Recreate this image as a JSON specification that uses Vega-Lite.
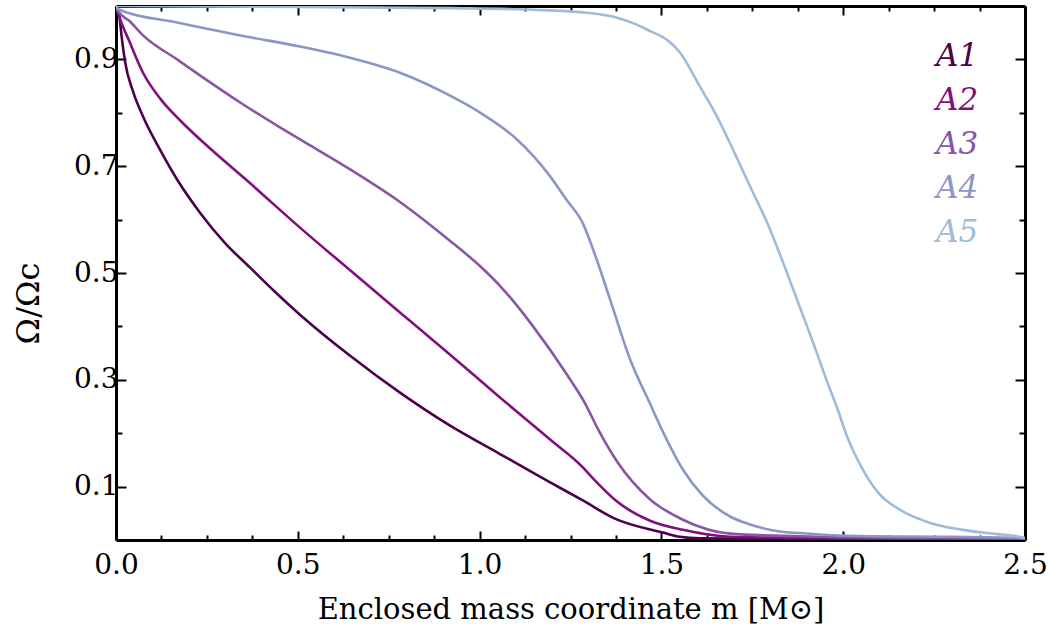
{
  "$schema": "https://vega.github.io/schema/vega-lite/v6.json",
  "width": 909,
  "height": 534,
  "autosize": {"type": "none"},
  "padding": {"left": 116, "top": 6, "right": 23, "bottom": 88},
  "background": "white",
  "config": {
    "view": {"stroke": null},
    "font": "DejaVu Serif",
    "axis": {
      "domainColor": "black",
      "domainWidth": 3,
      "tickColor": "black",
      "tickWidth": 2,
      "grid": false,
      "labelFont": "DejaVu Serif",
      "labelFontSize": 28,
      "labelColor": "black",
      "labelFlush": false,
      "labelOverlap": false,
      "labelBound": false,
      "titleFont": "DejaVu Serif",
      "titleFontSize": 29,
      "titleFontWeight": "normal",
      "titleColor": "black"
    }
  },
  "data": {"values": [
    {"model":"A1","m":0,"omega":1.0},{"model":"A1","m":0.0083,"omega":0.985},{"model":"A1","m":0.0165,"omega":0.937},{"model":"A1","m":0.0248,"omega":0.896},{"model":"A1","m":0.0468,"omega":0.840},{"model":"A1","m":0.0743,"omega":0.793},{"model":"A1","m":0.121,"omega":0.731},{"model":"A1","m":0.168,"omega":0.675},{"model":"A1","m":0.231,"omega":0.613},{"model":"A1","m":0.300,"omega":0.556},{"model":"A1","m":0.369,"omega":0.510},{"model":"A1","m":0.437,"omega":0.465},{"model":"A1","m":0.506,"omega":0.422},{"model":"A1","m":0.644,"omega":0.345},{"model":"A1","m":0.781,"omega":0.276},{"model":"A1","m":0.919,"omega":0.214},{"model":"A1","m":1.056,"omega":0.161},{"model":"A1","m":1.103,"omega":0.143},{"model":"A1","m":1.194,"omega":0.108},{"model":"A1","m":1.284,"omega":0.074},{"model":"A1","m":1.372,"omega":0.040},{"model":"A1","m":1.504,"omega":0.014},{"model":"A1","m":1.551,"omega":0.006},{"model":"A1","m":1.606,"omega":0.003},{"model":"A1","m":2.0,"omega":0.001},{"model":"A1","m":2.5,"omega":0.001},
    {"model":"A2","m":0,"omega":1.0},{"model":"A2","m":0.0055,"omega":0.987},{"model":"A2","m":0.0385,"omega":0.931},{"model":"A2","m":0.0743,"omega":0.875},{"model":"A2","m":0.121,"omega":0.827},{"model":"A2","m":0.176,"omega":0.786},{"model":"A2","m":0.259,"omega":0.733},{"model":"A2","m":0.369,"omega":0.668},{"model":"A2","m":0.506,"omega":0.585},{"model":"A2","m":0.644,"omega":0.505},{"model":"A2","m":0.781,"omega":0.426},{"model":"A2","m":0.919,"omega":0.347},{"model":"A2","m":1.056,"omega":0.267},{"model":"A2","m":1.194,"omega":0.188},{"model":"A2","m":1.284,"omega":0.136},{"model":"A2","m":1.315,"omega":0.113},{"model":"A2","m":1.378,"omega":0.072},{"model":"A2","m":1.469,"omega":0.036},{"model":"A2","m":1.559,"omega":0.019},{"model":"A2","m":1.689,"omega":0.006},{"model":"A2","m":1.881,"omega":0.004},{"model":"A2","m":2.156,"omega":0.002},{"model":"A2","m":2.5,"omega":0.002},
    {"model":"A3","m":0,"omega":1.0},{"model":"A3","m":0.0055,"omega":0.991},{"model":"A3","m":0.0385,"omega":0.971},{"model":"A3","m":0.0743,"omega":0.945},{"model":"A3","m":0.168,"omega":0.900},{"model":"A3","m":0.259,"omega":0.857},{"model":"A3","m":0.349,"omega":0.816},{"model":"A3","m":0.443,"omega":0.776},{"model":"A3","m":0.534,"omega":0.739},{"model":"A3","m":0.644,"omega":0.694},{"model":"A3","m":0.781,"omega":0.633},{"model":"A3","m":0.919,"omega":0.560},{"model":"A3","m":1.001,"omega":0.513},{"model":"A3","m":1.064,"omega":0.470},{"model":"A3","m":1.147,"omega":0.400},{"model":"A3","m":1.240,"omega":0.310},{"model":"A3","m":1.290,"omega":0.256},{"model":"A3","m":1.326,"omega":0.207},{"model":"A3","m":1.378,"omega":0.147},{"model":"A3","m":1.469,"omega":0.076},{"model":"A3","m":1.559,"omega":0.038},{"model":"A3","m":1.689,"omega":0.012},{"model":"A3","m":1.881,"omega":0.007},{"model":"A3","m":2.156,"omega":0.004},{"model":"A3","m":2.5,"omega":0.003},
    {"model":"A4","m":0,"omega":1.0},{"model":"A4","m":0.0055,"omega":0.994},{"model":"A4","m":0.168,"omega":0.969},{"model":"A4","m":0.349,"omega":0.944},{"model":"A4","m":0.506,"omega":0.924},{"model":"A4","m":0.644,"omega":0.903},{"model":"A4","m":0.781,"omega":0.875},{"model":"A4","m":0.919,"omega":0.832},{"model":"A4","m":1.009,"omega":0.797},{"model":"A4","m":1.103,"omega":0.750},{"model":"A4","m":1.194,"omega":0.681},{"model":"A4","m":1.238,"omega":0.638},{"model":"A4","m":1.284,"omega":0.593},{"model":"A4","m":1.320,"omega":0.529},{"model":"A4","m":1.359,"omega":0.450},{"model":"A4","m":1.414,"omega":0.338},{"model":"A4","m":1.469,"omega":0.255},{"model":"A4","m":1.504,"omega":0.203},{"model":"A4","m":1.559,"omega":0.132},{"model":"A4","m":1.614,"omega":0.083},{"model":"A4","m":1.689,"omega":0.044},{"model":"A4","m":1.744,"omega":0.029},{"model":"A4","m":1.826,"omega":0.016},{"model":"A4","m":1.881,"omega":0.013},{"model":"A4","m":2.010,"omega":0.008},{"model":"A4","m":2.294,"omega":0.006},{"model":"A4","m":2.5,"omega":0.004},
    {"model":"A5","m":0,"omega":1.0},{"model":"A5","m":0.506,"omega":0.998},{"model":"A5","m":0.919,"omega":0.996},{"model":"A5","m":1.147,"omega":0.993},{"model":"A5","m":1.284,"omega":0.988},{"model":"A5","m":1.378,"omega":0.978},{"model":"A5","m":1.422,"omega":0.968},{"model":"A5","m":1.469,"omega":0.953},{"model":"A5","m":1.515,"omega":0.937},{"model":"A5","m":1.551,"omega":0.913},{"model":"A5","m":1.606,"omega":0.849},{"model":"A5","m":1.653,"omega":0.793},{"model":"A5","m":1.697,"omega":0.731},{"model":"A5","m":1.744,"omega":0.662},{"model":"A5","m":1.791,"omega":0.594},{"model":"A5","m":1.835,"omega":0.519},{"model":"A5","m":1.873,"omega":0.450},{"model":"A5","m":1.917,"omega":0.370},{"model":"A5","m":1.955,"omega":0.298},{"model":"A5","m":1.983,"omega":0.248},{"model":"A5","m":2.010,"omega":0.195},{"model":"A5","m":2.054,"omega":0.132},{"model":"A5","m":2.101,"omega":0.085},{"model":"A5","m":2.148,"omega":0.060},{"model":"A5","m":2.239,"omega":0.032},{"model":"A5","m":2.329,"omega":0.019},{"model":"A5","m":2.423,"omega":0.011},{"model":"A5","m":2.478,"omega":0.007},{"model":"A5","m":2.5,"omega":0.003}
  ]},
  "layer": [
    {
      "mark": {"type": "line", "strokeWidth": 2.6, "interpolate": "monotone", "clip": true},
      "encoding": {
        "x": {
          "field": "m", "type": "quantitative",
          "scale": {"domain": [0, 2.5], "nice": false, "zero": false},
          "axis": {
            "orient": "bottom",
            "title": "Enclosed mass coordinate m [M⊙]",
            "titlePadding": 12,
            "values": [0,0.125,0.25,0.375,0.5,0.625,0.75,0.875,1,1.125,1.25,1.375,1.5,1.625,1.75,1.875,2,2.125,2.25,2.375,2.5],
            "labelExpr": "abs(datum.value*2 - round(datum.value*2)) < 0.001 ? format(datum.value, '.1f') : ''",
            "tickSize": {"condition": {"test": "abs(datum.value*2 - round(datum.value*2)) < 0.001", "value": -9}, "value": -5},
            "labelPadding": 20
          }
        },
        "y": {
          "field": "omega", "type": "quantitative",
          "scale": {"domain": [0, 1], "nice": false, "zero": false},
          "axis": {
            "orient": "left",
            "title": "Ω/Ωc",
            "titleFontSize": 32,
            "titlePadding": 28,
            "titleY": 297,
            "values": [0.1,0.2,0.3,0.4,0.5,0.6,0.7,0.8,0.9],
            "labelExpr": "round(datum.value*10) % 2 == 1 ? format(datum.value, '.1f') : ''",
            "tickSize": {"condition": {"test": "round(datum.value*10) % 2 == 1", "value": -10}, "value": -6},
            "labelPadding": 8
          }
        },
        "color": {
          "field": "model", "type": "nominal",
          "scale": {"domain": ["A1","A2","A3","A4","A5"], "range": ["#4d004b","#810f7c","#8856a7","#8c96c6","#9ebcda"]},
          "legend": {
            "orient": "none",
            "legendX": 789,
            "legendY": 35,
            "title": null,
            "symbolSize": 0,
            "symbolOpacity": 0,
            "symbolStrokeWidth": 0,
            "labelOffset": 0,
            "labelFont": "DejaVu Serif",
            "labelFontStyle": "italic",
            "labelFontSize": 31,
            "rowPadding": 12,
            "padding": 0,
            "encode": {"labels": {"update": {"fill": {"scale": "color", "field": "value"}}}}
          }
        }
      }
    },
    {
      "mark": {"type": "line", "opacity": 0},
      "encoding": {
        "x": {
          "field": "m", "type": "quantitative",
          "axis": {
            "orient": "top", "title": null, "labels": false,
            "values": [0,0.125,0.25,0.375,0.5,0.625,0.75,0.875,1,1.125,1.25,1.375,1.5,1.625,1.75,1.875,2,2.125,2.25,2.375,2.5],
            "tickSize": {"condition": {"test": "abs(datum.value*2 - round(datum.value*2)) < 0.001", "value": -9}, "value": -5}
          }
        },
        "y": {
          "field": "omega", "type": "quantitative",
          "axis": {
            "orient": "right", "title": null, "labels": false,
            "values": [0.1,0.2,0.3,0.4,0.5,0.6,0.7,0.8,0.9],
            "tickSize": {"condition": {"test": "round(datum.value*10) % 2 == 1", "value": -10}, "value": -6}
          }
        }
      }
    }
  ],
  "resolve": {"axis": {"x": "independent", "y": "independent"}}
}
